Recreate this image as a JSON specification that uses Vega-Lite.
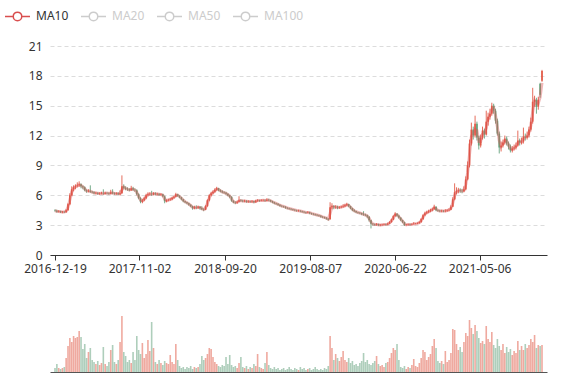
{
"$schema": "https://vega.github.io/schema/vega-lite/v6.json",
"background": "white",
"padding": {"top": 8, "left": 5, "right": 5, "bottom": 5},
"config": {"view": {"stroke": null}, "font": "Noto Sans",
  "axisY": {"title": null, "grid": true, "gridDash": [4, 3], "gridColor": "#dcdcdc", "domain": false, "ticks": false, "labelPadding": 8, "labelColor": "#333", "labelFontSize": 12}},
"data": {"values": [
{"d":"2016-12-19","o":4.5,"c":4.45,"h":4.6,"l":4.35,"v":4},
{"d":"2016-12-26","o":4.45,"c":4.35,"h":4.55,"l":4.25,"v":8},
{"d":"2017-01-02","o":4.35,"c":4.4,"h":4.5,"l":4.28,"v":4},
{"d":"2017-01-09","o":4.4,"c":4.3,"h":4.45,"l":4.22,"v":3},
{"d":"2017-01-16","o":4.3,"c":4.35,"h":4.42,"l":4.2,"v":4},
{"d":"2017-01-23","o":4.35,"c":4.3,"h":4.4,"l":4.22,"v":5},
{"d":"2017-01-30","o":4.3,"c":4.5,"h":4.6,"l":4.25,"v":14},
{"d":"2017-02-06","o":4.5,"c":5.1,"h":5.2,"l":4.45,"v":26},
{"d":"2017-02-13","o":5.1,"c":6.0,"h":6.2,"l":5.0,"v":34},
{"d":"2017-02-20","o":6.0,"c":6.6,"h":6.9,"l":5.9,"v":30},
{"d":"2017-02-27","o":6.6,"c":6.8,"h":7.0,"l":6.4,"v":36},
{"d":"2017-03-06","o":6.8,"c":6.9,"h":7.1,"l":6.6,"v":34},
{"d":"2017-03-13","o":6.95,"c":7.0,"h":7.3,"l":6.8,"v":35},
{"d":"2017-03-20","o":7.0,"c":7.1,"h":7.4,"l":6.85,"v":41},
{"d":"2017-03-27","o":7.1,"c":6.9,"h":7.2,"l":6.7,"v":35},
{"d":"2017-04-03","o":6.9,"c":6.8,"h":7.0,"l":6.6,"v":23},
{"d":"2017-04-10","o":6.8,"c":6.5,"h":6.9,"l":6.4,"v":28},
{"d":"2017-04-17","o":6.5,"c":6.4,"h":6.6,"l":6.25,"v":14},
{"d":"2017-04-24","o":6.4,"c":6.45,"h":6.6,"l":6.3,"v":20},
{"d":"2017-05-01","o":6.45,"c":6.35,"h":7.0,"l":6.25,"v":24},
{"d":"2017-05-08","o":6.35,"c":6.3,"h":6.45,"l":6.2,"v":12},
{"d":"2017-05-15","o":6.3,"c":6.2,"h":6.4,"l":6.1,"v":10},
{"d":"2017-05-22","o":6.2,"c":6.25,"h":6.35,"l":6.1,"v":8},
{"d":"2017-05-29","o":6.25,"c":6.15,"h":6.3,"l":6.05,"v":11},
{"d":"2017-06-05","o":6.15,"c":6.2,"h":6.3,"l":6.05,"v":7},
{"d":"2017-06-12","o":6.18,"c":6.2,"h":6.35,"l":6.1,"v":9},
{"d":"2017-06-19","o":6.2,"c":6.15,"h":6.6,"l":6.05,"v":25},
{"d":"2017-06-26","o":6.15,"c":6.25,"h":6.35,"l":6.1,"v":8},
{"d":"2017-07-03","o":6.25,"c":6.2,"h":6.3,"l":6.1,"v":6},
{"d":"2017-07-10","o":6.2,"c":6.15,"h":6.3,"l":6.05,"v":10},
{"d":"2017-07-17","o":6.15,"c":6.3,"h":6.55,"l":6.1,"v":22},
{"d":"2017-07-24","o":6.3,"c":6.2,"h":6.6,"l":6.1,"v":27},
{"d":"2017-07-31","o":6.2,"c":6.15,"h":6.3,"l":6.05,"v":10},
{"d":"2017-08-07","o":6.15,"c":6.2,"h":6.3,"l":6.05,"v":8},
{"d":"2017-08-14","o":6.2,"c":6.1,"h":6.3,"l":6.0,"v":12},
{"d":"2017-08-21","o":6.1,"c":6.2,"h":6.5,"l":6.0,"v":30},
{"d":"2017-08-28","o":6.2,"c":6.9,"h":8.0,"l":6.15,"v":56},
{"d":"2017-09-04","o":6.9,"c":6.75,"h":7.1,"l":6.6,"v":20},
{"d":"2017-09-11","o":6.75,"c":6.65,"h":6.9,"l":6.5,"v":16},
{"d":"2017-09-18","o":6.65,"c":6.6,"h":6.8,"l":6.45,"v":10},
{"d":"2017-09-25","o":6.6,"c":6.5,"h":6.7,"l":6.4,"v":12},
{"d":"2017-10-02","o":6.5,"c":6.7,"h":6.95,"l":6.45,"v":9},
{"d":"2017-10-09","o":6.7,"c":6.55,"h":6.85,"l":6.45,"v":20},
{"d":"2017-10-16","o":6.55,"c":6.5,"h":6.7,"l":6.35,"v":12},
{"d":"2017-10-23","o":6.5,"c":6.1,"h":6.6,"l":6.0,"v":36},
{"d":"2017-10-30","o":6.1,"c":5.7,"h":6.2,"l":5.6,"v":22},
{"d":"2017-11-06","o":5.7,"c":5.35,"h":5.8,"l":5.2,"v":18},
{"d":"2017-11-13","o":5.35,"c":5.5,"h":5.65,"l":5.2,"v":29},
{"d":"2017-11-20","o":5.5,"c":5.7,"h":5.85,"l":5.4,"v":14},
{"d":"2017-11-27","o":5.7,"c":6.0,"h":6.15,"l":5.6,"v":18},
{"d":"2017-12-04","o":6.0,"c":6.1,"h":6.3,"l":5.9,"v":32},
{"d":"2017-12-11","o":6.1,"c":6.15,"h":6.3,"l":6.0,"v":21},
{"d":"2017-12-18","o":6.15,"c":6.1,"h":6.45,"l":5.95,"v":50},
{"d":"2017-12-25","o":6.1,"c":6.2,"h":6.3,"l":6.0,"v":24},
{"d":"2018-01-01","o":6.2,"c":6.1,"h":6.3,"l":6.0,"v":10},
{"d":"2018-01-08","o":6.1,"c":6.15,"h":6.25,"l":6.0,"v":8},
{"d":"2018-01-15","o":6.15,"c":6.05,"h":6.2,"l":5.95,"v":12},
{"d":"2018-01-22","o":6.05,"c":6.1,"h":6.2,"l":5.95,"v":9},
{"d":"2018-01-29","o":6.1,"c":5.9,"h":6.15,"l":5.8,"v":7},
{"d":"2018-02-05","o":5.9,"c":5.4,"h":5.95,"l":5.2,"v":11},
{"d":"2018-02-12","o":5.4,"c":5.5,"h":5.6,"l":5.3,"v":9},
{"d":"2018-02-19","o":5.5,"c":5.55,"h":5.65,"l":5.4,"v":8},
{"d":"2018-02-26","o":5.55,"c":5.6,"h":5.75,"l":5.45,"v":17},
{"d":"2018-03-05","o":5.6,"c":5.75,"h":5.85,"l":5.5,"v":10},
{"d":"2018-03-12","o":5.75,"c":5.85,"h":5.95,"l":5.65,"v":8},
{"d":"2018-03-19","o":5.85,"c":6.1,"h":6.25,"l":5.8,"v":28},
{"d":"2018-03-26","o":6.1,"c":5.95,"h":6.15,"l":5.85,"v":12},
{"d":"2018-04-02","o":5.95,"c":5.8,"h":6.0,"l":5.7,"v":6},
{"d":"2018-04-09","o":5.8,"c":5.6,"h":5.85,"l":5.5,"v":4},
{"d":"2018-04-16","o":5.6,"c":5.4,"h":5.65,"l":5.3,"v":5},
{"d":"2018-04-23","o":5.4,"c":5.3,"h":5.45,"l":5.2,"v":3},
{"d":"2018-04-30","o":5.3,"c":5.2,"h":5.35,"l":5.1,"v":5},
{"d":"2018-05-07","o":5.2,"c":5.05,"h":5.25,"l":4.95,"v":4},
{"d":"2018-05-14","o":5.05,"c":4.9,"h":5.1,"l":4.8,"v":6},
{"d":"2018-05-21","o":4.9,"c":4.7,"h":4.95,"l":4.55,"v":3},
{"d":"2018-05-28","o":4.7,"c":4.8,"h":4.95,"l":4.6,"v":5},
{"d":"2018-06-04","o":4.8,"c":4.75,"h":5.0,"l":4.6,"v":4},
{"d":"2018-06-11","o":4.75,"c":4.85,"h":4.95,"l":4.65,"v":5},
{"d":"2018-06-18","o":4.85,"c":4.7,"h":4.9,"l":4.55,"v":8},
{"d":"2018-06-25","o":4.7,"c":4.6,"h":4.9,"l":4.5,"v":16},
{"d":"2018-07-02","o":4.6,"c":4.55,"h":4.7,"l":4.4,"v":12},
{"d":"2018-07-09","o":4.55,"c":4.9,"h":5.0,"l":4.5,"v":14},
{"d":"2018-07-16","o":4.9,"c":5.5,"h":5.6,"l":4.85,"v":18},
{"d":"2018-07-23","o":5.5,"c":6.0,"h":6.1,"l":5.4,"v":24},
{"d":"2018-07-30","o":6.0,"c":6.2,"h":6.35,"l":5.9,"v":23},
{"d":"2018-08-06","o":6.2,"c":6.35,"h":6.5,"l":6.1,"v":15},
{"d":"2018-08-13","o":6.35,"c":6.55,"h":6.7,"l":6.25,"v":10},
{"d":"2018-08-20","o":6.55,"c":6.7,"h":6.85,"l":6.45,"v":8},
{"d":"2018-08-27","o":6.7,"c":6.5,"h":6.75,"l":6.4,"v":6},
{"d":"2018-09-03","o":6.5,"c":6.4,"h":6.6,"l":6.3,"v":5},
{"d":"2018-09-10","o":6.4,"c":6.3,"h":6.5,"l":6.2,"v":7},
{"d":"2018-09-17","o":6.3,"c":6.25,"h":6.4,"l":6.15,"v":6},
{"d":"2018-09-24","o":6.25,"c":6.15,"h":6.35,"l":6.05,"v":15},
{"d":"2018-10-01","o":6.15,"c":6.0,"h":6.2,"l":5.9,"v":8},
{"d":"2018-10-08","o":6.0,"c":5.85,"h":6.05,"l":5.7,"v":17},
{"d":"2018-10-15","o":5.85,"c":5.45,"h":5.9,"l":5.35,"v":7},
{"d":"2018-10-22","o":5.45,"c":5.3,"h":5.5,"l":5.2,"v":5},
{"d":"2018-10-29","o":5.3,"c":5.25,"h":5.4,"l":5.1,"v":6},
{"d":"2018-11-05","o":5.25,"c":5.35,"h":5.45,"l":5.15,"v":4},
{"d":"2018-11-12","o":5.35,"c":5.5,"h":5.9,"l":5.3,"v":9},
{"d":"2018-11-19","o":5.5,"c":5.45,"h":5.6,"l":5.35,"v":15},
{"d":"2018-11-26","o":5.45,"c":5.4,"h":5.55,"l":5.3,"v":5},
{"d":"2018-12-03","o":5.4,"c":5.45,"h":5.55,"l":5.3,"v":4},
{"d":"2018-12-10","o":5.45,"c":5.35,"h":5.5,"l":5.25,"v":6},
{"d":"2018-12-17","o":5.35,"c":5.4,"h":5.5,"l":5.25,"v":3},
{"d":"2018-12-24","o":5.4,"c":5.35,"h":5.45,"l":5.25,"v":5},
{"d":"2018-12-31","o":5.35,"c":5.4,"h":5.5,"l":5.25,"v":4},
{"d":"2019-01-07","o":5.4,"c":5.3,"h":5.45,"l":5.2,"v":8},
{"d":"2019-01-14","o":5.3,"c":5.45,"h":5.55,"l":5.25,"v":6},
{"d":"2019-01-21","o":5.45,"c":5.5,"h":5.6,"l":5.35,"v":18},
{"d":"2019-01-28","o":5.5,"c":5.45,"h":5.55,"l":5.35,"v":5},
{"d":"2019-02-04","o":5.45,"c":5.5,"h":5.6,"l":5.4,"v":4},
{"d":"2019-02-11","o":5.48,"c":5.5,"h":5.6,"l":5.4,"v":3},
{"d":"2019-02-18","o":5.5,"c":5.45,"h":5.6,"l":5.35,"v":9},
{"d":"2019-02-25","o":5.45,"c":5.55,"h":5.7,"l":5.4,"v":20},
{"d":"2019-03-04","o":5.55,"c":5.5,"h":5.65,"l":5.4,"v":7},
{"d":"2019-03-11","o":5.5,"c":5.4,"h":5.55,"l":5.3,"v":4},
{"d":"2019-03-18","o":5.4,"c":5.3,"h":5.45,"l":5.2,"v":3},
{"d":"2019-03-25","o":5.3,"c":5.2,"h":5.35,"l":5.1,"v":5},
{"d":"2019-04-01","o":5.2,"c":5.15,"h":5.25,"l":5.05,"v":3},
{"d":"2019-04-08","o":5.15,"c":5.05,"h":5.2,"l":4.95,"v":4},
{"d":"2019-04-15","o":5.05,"c":4.95,"h":5.1,"l":4.85,"v":2},
{"d":"2019-04-22","o":4.95,"c":4.9,"h":5.0,"l":4.8,"v":3},
{"d":"2019-04-29","o":4.9,"c":4.85,"h":4.95,"l":4.75,"v":4},
{"d":"2019-05-06","o":4.85,"c":4.75,"h":4.9,"l":4.65,"v":2},
{"d":"2019-05-13","o":4.75,"c":4.7,"h":4.8,"l":4.6,"v":3},
{"d":"2019-05-20","o":4.7,"c":4.65,"h":4.75,"l":4.55,"v":5},
{"d":"2019-05-27","o":4.65,"c":4.6,"h":4.7,"l":4.5,"v":3},
{"d":"2019-06-03","o":4.6,"c":4.55,"h":4.65,"l":4.45,"v":2},
{"d":"2019-06-10","o":4.55,"c":4.5,"h":4.6,"l":4.4,"v":4},
{"d":"2019-06-17","o":4.5,"c":4.45,"h":4.55,"l":4.35,"v":3},
{"d":"2019-06-24","o":4.43,"c":4.45,"h":4.55,"l":4.35,"v":2},
{"d":"2019-07-01","o":4.45,"c":4.4,"h":4.5,"l":4.3,"v":5},
{"d":"2019-07-08","o":4.4,"c":4.35,"h":4.45,"l":4.25,"v":3},
{"d":"2019-07-15","o":4.35,"c":4.3,"h":4.4,"l":4.2,"v":4},
{"d":"2019-07-22","o":4.3,"c":4.25,"h":4.35,"l":4.15,"v":2},
{"d":"2019-07-29","o":4.25,"c":4.3,"h":4.4,"l":4.2,"v":3},
{"d":"2019-08-05","o":4.3,"c":4.2,"h":4.35,"l":4.1,"v":4},
{"d":"2019-08-12","o":4.2,"c":4.15,"h":4.25,"l":4.05,"v":2},
{"d":"2019-08-19","o":4.15,"c":4.1,"h":4.2,"l":4.0,"v":3},
{"d":"2019-08-26","o":4.1,"c":4.05,"h":4.15,"l":3.95,"v":5},
{"d":"2019-09-02","o":4.05,"c":4.0,"h":4.1,"l":3.9,"v":3},
{"d":"2019-09-09","o":4.0,"c":3.95,"h":4.05,"l":3.85,"v":2},
{"d":"2019-09-16","o":3.95,"c":3.85,"h":4.0,"l":3.75,"v":3},
{"d":"2019-09-23","o":3.85,"c":3.8,"h":3.9,"l":3.7,"v":2},
{"d":"2019-09-30","o":3.8,"c":3.75,"h":3.85,"l":3.65,"v":4},
{"d":"2019-10-07","o":3.75,"c":3.65,"h":3.8,"l":3.55,"v":3},
{"d":"2019-10-14","o":3.65,"c":3.55,"h":3.7,"l":3.45,"v":6},
{"d":"2019-10-21","o":3.6,"c":4.8,"h":5.3,"l":3.55,"v":36},
{"d":"2019-10-28","o":4.8,"c":4.9,"h":5.2,"l":4.6,"v":24},
{"d":"2019-11-04","o":4.9,"c":4.8,"h":5.0,"l":4.6,"v":12},
{"d":"2019-11-11","o":4.8,"c":4.85,"h":5.0,"l":4.65,"v":18},
{"d":"2019-11-18","o":4.85,"c":4.75,"h":4.95,"l":4.6,"v":14},
{"d":"2019-11-25","o":4.75,"c":4.8,"h":4.9,"l":4.65,"v":11},
{"d":"2019-12-02","o":4.8,"c":4.85,"h":4.95,"l":4.7,"v":15},
{"d":"2019-12-09","o":4.85,"c":4.9,"h":5.1,"l":4.75,"v":21},
{"d":"2019-12-16","o":4.9,"c":5.0,"h":5.15,"l":4.8,"v":12},
{"d":"2019-12-23","o":5.0,"c":5.1,"h":5.25,"l":4.9,"v":10},
{"d":"2019-12-30","o":5.1,"c":4.9,"h":5.15,"l":4.8,"v":14},
{"d":"2020-01-06","o":4.9,"c":4.7,"h":4.95,"l":4.6,"v":9},
{"d":"2020-01-13","o":4.7,"c":4.5,"h":4.75,"l":4.4,"v":11},
{"d":"2020-01-20","o":4.5,"c":4.4,"h":4.6,"l":4.3,"v":7},
{"d":"2020-01-27","o":4.4,"c":4.3,"h":4.45,"l":4.2,"v":8},
{"d":"2020-02-03","o":4.3,"c":4.25,"h":4.35,"l":4.15,"v":6},
{"d":"2020-02-10","o":4.25,"c":4.2,"h":4.3,"l":4.1,"v":9},
{"d":"2020-02-17","o":4.2,"c":4.1,"h":4.25,"l":4.0,"v":11},
{"d":"2020-02-24","o":4.1,"c":4.05,"h":4.4,"l":3.95,"v":19},
{"d":"2020-03-02","o":4.05,"c":4.0,"h":4.15,"l":3.9,"v":10},
{"d":"2020-03-09","o":4.0,"c":3.85,"h":4.05,"l":3.7,"v":12},
{"d":"2020-03-16","o":3.85,"c":3.5,"h":3.9,"l":3.35,"v":8},
{"d":"2020-03-23","o":3.5,"c":3.15,"h":3.55,"l":2.67,"v":7},
{"d":"2020-03-30","o":3.15,"c":3.1,"h":3.2,"l":2.95,"v":9},
{"d":"2020-04-06","o":3.1,"c":3.05,"h":3.15,"l":2.95,"v":11},
{"d":"2020-04-13","o":3.05,"c":3.1,"h":3.2,"l":2.95,"v":16},
{"d":"2020-04-20","o":3.1,"c":3.0,"h":3.15,"l":2.9,"v":8},
{"d":"2020-04-27","o":3.0,"c":3.05,"h":3.1,"l":2.9,"v":6},
{"d":"2020-05-04","o":3.03,"c":3.05,"h":3.12,"l":2.95,"v":7},
{"d":"2020-05-11","o":3.05,"c":3.1,"h":3.15,"l":2.98,"v":5},
{"d":"2020-05-18","o":3.1,"c":3.05,"h":3.15,"l":2.95,"v":9},
{"d":"2020-05-25","o":3.05,"c":3.15,"h":3.25,"l":3.0,"v":10},
{"d":"2020-06-01","o":3.15,"c":3.3,"h":3.4,"l":3.1,"v":14},
{"d":"2020-06-08","o":3.3,"c":3.55,"h":3.65,"l":3.25,"v":19},
{"d":"2020-06-15","o":3.55,"c":3.9,"h":4.0,"l":3.5,"v":24},
{"d":"2020-06-22","o":3.9,"c":4.15,"h":4.3,"l":3.85,"v":22},
{"d":"2020-06-29","o":4.15,"c":3.95,"h":4.2,"l":3.85,"v":28},
{"d":"2020-07-06","o":3.95,"c":3.75,"h":4.05,"l":3.65,"v":12},
{"d":"2020-07-13","o":3.75,"c":3.5,"h":3.8,"l":3.4,"v":5},
{"d":"2020-07-20","o":3.5,"c":3.3,"h":3.55,"l":3.2,"v":4},
{"d":"2020-07-27","o":3.3,"c":3.0,"h":3.35,"l":2.92,"v":6},
{"d":"2020-08-03","o":3.0,"c":3.05,"h":3.12,"l":2.95,"v":3},
{"d":"2020-08-10","o":3.05,"c":3.1,"h":3.15,"l":2.98,"v":5},
{"d":"2020-08-17","o":3.1,"c":3.05,"h":3.15,"l":2.98,"v":4},
{"d":"2020-08-24","o":3.05,"c":3.1,"h":3.18,"l":3.0,"v":7},
{"d":"2020-08-31","o":3.1,"c":3.15,"h":3.3,"l":3.05,"v":13},
{"d":"2020-09-07","o":3.13,"c":3.15,"h":3.22,"l":3.08,"v":6},
{"d":"2020-09-14","o":3.15,"c":3.2,"h":3.28,"l":3.1,"v":5},
{"d":"2020-09-21","o":3.2,"c":3.3,"h":3.4,"l":3.15,"v":9},
{"d":"2020-09-28","o":3.3,"c":3.6,"h":3.7,"l":3.25,"v":14},
{"d":"2020-10-05","o":3.6,"c":4.0,"h":4.1,"l":3.55,"v":22},
{"d":"2020-10-12","o":4.0,"c":4.2,"h":4.35,"l":3.9,"v":20},
{"d":"2020-10-19","o":4.2,"c":4.3,"h":4.45,"l":4.1,"v":12},
{"d":"2020-10-26","o":4.3,"c":4.4,"h":4.55,"l":4.2,"v":15},
{"d":"2020-11-02","o":4.4,"c":4.5,"h":4.65,"l":4.3,"v":18},
{"d":"2020-11-09","o":4.5,"c":4.6,"h":4.75,"l":4.4,"v":26},
{"d":"2020-11-16","o":4.6,"c":4.85,"h":5.05,"l":4.55,"v":33},
{"d":"2020-11-23","o":4.85,"c":4.5,"h":4.9,"l":4.4,"v":24},
{"d":"2020-11-30","o":4.5,"c":4.45,"h":4.6,"l":4.35,"v":11},
{"d":"2020-12-07","o":4.45,"c":4.4,"h":4.55,"l":4.3,"v":9},
{"d":"2020-12-14","o":4.4,"c":4.45,"h":4.55,"l":4.3,"v":11},
{"d":"2020-12-21","o":4.45,"c":4.4,"h":4.5,"l":4.3,"v":8},
{"d":"2020-12-28","o":4.4,"c":4.45,"h":4.6,"l":4.3,"v":21},
{"d":"2021-01-04","o":4.45,"c":4.5,"h":4.6,"l":4.35,"v":10},
{"d":"2021-01-11","o":4.5,"c":4.55,"h":4.7,"l":4.4,"v":12},
{"d":"2021-01-18","o":4.55,"c":4.85,"h":5.0,"l":4.5,"v":19},
{"d":"2021-01-25","o":4.85,"c":5.6,"h":5.8,"l":4.8,"v":43},
{"d":"2021-02-01","o":5.6,"c":6.3,"h":7.2,"l":5.5,"v":42},
{"d":"2021-02-08","o":6.3,"c":6.4,"h":6.8,"l":6.1,"v":28},
{"d":"2021-02-15","o":6.4,"c":6.5,"h":6.75,"l":6.2,"v":22},
{"d":"2021-02-22","o":6.5,"c":6.45,"h":6.7,"l":6.25,"v":25},
{"d":"2021-03-01","o":6.45,"c":6.4,"h":6.65,"l":6.2,"v":20},
{"d":"2021-03-08","o":6.4,"c":6.6,"h":6.9,"l":6.3,"v":30},
{"d":"2021-03-15","o":6.6,"c":7.6,"h":7.9,"l":6.5,"v":39},
{"d":"2021-03-22","o":7.6,"c":9.0,"h":9.4,"l":7.5,"v":36},
{"d":"2021-03-29","o":9.0,"c":11.2,"h":11.6,"l":8.8,"v":52},
{"d":"2021-04-05","o":11.2,"c":12.6,"h":13.3,"l":11.0,"v":44},
{"d":"2021-04-12","o":12.6,"c":12.0,"h":12.9,"l":11.6,"v":38},
{"d":"2021-04-19","o":12.0,"c":13.2,"h":14.0,"l":11.8,"v":47},
{"d":"2021-04-26","o":13.2,"c":11.8,"h":13.4,"l":11.5,"v":41},
{"d":"2021-05-03","o":11.8,"c":11.0,"h":12.0,"l":10.6,"v":34},
{"d":"2021-05-10","o":11.0,"c":11.8,"h":12.1,"l":10.8,"v":29},
{"d":"2021-05-17","o":11.8,"c":12.5,"h":12.9,"l":11.6,"v":31},
{"d":"2021-05-24","o":12.5,"c":12.1,"h":12.7,"l":11.7,"v":28},
{"d":"2021-05-31","o":12.1,"c":13.4,"h":14.5,"l":12.0,"v":46},
{"d":"2021-06-07","o":13.4,"c":13.9,"h":14.3,"l":13.0,"v":33},
{"d":"2021-06-14","o":13.9,"c":14.2,"h":14.7,"l":13.6,"v":30},
{"d":"2021-06-21","o":14.2,"c":15.0,"h":15.3,"l":14.0,"v":40},
{"d":"2021-06-28","o":15.0,"c":14.5,"h":15.2,"l":14.2,"v":27},
{"d":"2021-07-05","o":14.5,"c":13.5,"h":14.7,"l":13.2,"v":24},
{"d":"2021-07-12","o":13.5,"c":12.2,"h":13.7,"l":12.0,"v":33},
{"d":"2021-07-19","o":12.2,"c":10.8,"h":12.4,"l":10.2,"v":26},
{"d":"2021-07-26","o":10.8,"c":11.0,"h":11.4,"l":10.4,"v":22},
{"d":"2021-08-02","o":11.0,"c":11.3,"h":11.6,"l":10.8,"v":28},
{"d":"2021-08-09","o":11.3,"c":11.7,"h":12.0,"l":11.1,"v":19},
{"d":"2021-08-16","o":11.7,"c":11.2,"h":11.9,"l":11.0,"v":25},
{"d":"2021-08-23","o":11.2,"c":10.9,"h":11.4,"l":10.6,"v":20},
{"d":"2021-08-30","o":10.9,"c":10.5,"h":11.1,"l":10.3,"v":23},
{"d":"2021-09-06","o":10.5,"c":10.7,"h":10.95,"l":10.3,"v":17},
{"d":"2021-09-13","o":10.7,"c":10.8,"h":11.1,"l":10.5,"v":21},
{"d":"2021-09-20","o":10.8,"c":11.0,"h":11.3,"l":10.6,"v":19},
{"d":"2021-09-27","o":11.0,"c":11.5,"h":12.5,"l":10.9,"v":31},
{"d":"2021-10-04","o":11.5,"c":11.3,"h":11.7,"l":11.0,"v":22},
{"d":"2021-10-11","o":11.3,"c":11.4,"h":11.8,"l":11.1,"v":26},
{"d":"2021-10-18","o":11.4,"c":11.9,"h":12.8,"l":11.2,"v":22},
{"d":"2021-10-25","o":11.9,"c":11.8,"h":12.2,"l":11.5,"v":28},
{"d":"2021-11-01","o":11.8,"c":12.0,"h":12.4,"l":11.6,"v":24},
{"d":"2021-11-08","o":12.0,"c":12.6,"h":12.9,"l":11.8,"v":27},
{"d":"2021-11-15","o":12.6,"c":13.4,"h":13.8,"l":12.4,"v":33},
{"d":"2021-11-22","o":13.4,"c":15.4,"h":16.8,"l":13.2,"v":30},
{"d":"2021-11-29","o":15.4,"c":15.6,"h":16.0,"l":14.9,"v":37},
{"d":"2021-12-06","o":15.6,"c":14.9,"h":15.8,"l":14.2,"v":24},
{"d":"2021-12-13","o":14.9,"c":15.6,"h":15.9,"l":14.6,"v":27},
{"d":"2021-12-20","o":17.2,"c":16.1,"h":17.3,"l":15.8,"v":26},
{"d":"2021-12-27","o":17.5,"c":18.5,"h":18.6,"l":17.4,"v":27}
]},
"vconcat": [
{
"width": 497, "height": 209,
"encoding": {
  "x": {"field": "d", "type": "temporal",
    "scale": {"type": "utc", "domain": [{"year": 2016, "month": 12, "date": 19, "utc": true}, {"year": 2021, "month": 12, "date": 27, "utc": true}]},
    "axis": {"title": null, "grid": false, "format": "%Y-%m-%d",
      "values": [{"year": 2016, "month": 12, "date": 19, "utc": true}, {"year": 2017, "month": 11, "date": 2, "utc": true}, {"year": 2018, "month": 9, "date": 20, "utc": true}, {"year": 2019, "month": 8, "date": 7, "utc": true}, {"year": 2020, "month": 6, "date": 22, "utc": true}, {"year": 2021, "month": 5, "date": 6, "utc": true}],
      "labelFlush": false, "labelOverlap": false, "domainColor": "#333", "tickColor": "#333", "tickSize": 5, "labelColor": "#333", "labelFontSize": 12, "labelPadding": 3}}
},
"layer": [
  {"mark": {"type": "rule", "strokeWidth": 1, "opacity": 0.85},
   "encoding": {
     "y": {"field": "l", "type": "quantitative", "scale": {"domain": [0, 21], "nice": false}, "axis": {"values": [0, 3, 6, 9, 12, 15, 18, 21]}},
     "y2": {"field": "h"},
     "color": {"condition": {"test": "datum.c >= datum.o", "value": "#e0533f"}, "value": "#5d9e77"}}},
  {"mark": {"type": "bar", "size": 1.8, "opacity": 0.85},
   "encoding": {
     "y": {"field": "o", "type": "quantitative", "axis": {"values": [0, 3, 6, 9, 12, 15, 18, 21]}},
     "y2": {"field": "c"},
     "color": {"condition": {"test": "datum.c >= datum.o", "value": "#e0533f"}, "value": "#5d9e77"}}},
  {"transform": [{"window": [{"op": "mean", "field": "c", "as": "ma"}], "frame": [-1, 0], "sort": [{"field": "d"}]}],
   "mark": {"type": "line", "strokeWidth": 3, "opacity": 0.4},
   "encoding": {
     "y": {"field": "ma", "type": "quantitative", "axis": {"values": [0, 3, 6, 9, 12, 15, 18, 21]}},
     "color": {"datum": "MA10", "type": "nominal",
       "scale": {"domain": ["MA10", "MA20", "MA50", "MA100"], "range": ["#d94e4e", "#ccc", "#ccc", "#ccc"]},
       "legend": {"orient": "none", "legendX": -45, "legendY": -38, "direction": "horizontal", "columns": 4, "title": null,
         "symbolType": "M-1,0L-0.34,0M0.34,0L1,0M0.34,0A0.34,0.34,0,1,1,-0.34,0A0.34,0.34,0,1,1,0.34,0",
         "symbolSize": 625, "symbolStrokeWidth": 1.5, "symbolFillColor": "#fff", "symbolOpacity": 1,
         "labelFontSize": 12, "labelOffset": 5, "columnPadding": 9, "labelColor": "#333", "labelBaseline": "middle",
         "encode": {
           "labels": {"update": {"fill": {"signal": "datum.value === 'MA10' ? '#333' : '#ccc'"}, "x": {"value": 31}, "y": {"value": 8}}},
           "symbols": {"update": {"opacity": {"value": 1}, "size": {"value": 625}, "strokeWidth": {"value": 1.5}, "x": {"value": 12.5}, "y": {"value": 8}}}}}}}}
]
},
{
"width": 497, "height": 62,
"mark": {"type": "bar", "size": 1.6, "opacity": 0.5},
"encoding": {
  "x": {"field": "d", "type": "temporal",
    "scale": {"type": "utc", "domain": [{"year": 2016, "month": 12, "date": 19, "utc": true}, {"year": 2021, "month": 12, "date": 27, "utc": true}]},
    "axis": {"title": null, "labels": false, "ticks": false, "grid": false, "domainColor": "#555"}},
  "y": {"field": "v", "type": "quantitative", "scale": {"domain": [0, 62]}, "axis": null},
  "color": {"condition": {"test": "datum.c >= datum.o", "value": "#e0533f"}, "value": "#5d9e77"}
}
}
],
"spacing": 36
}
